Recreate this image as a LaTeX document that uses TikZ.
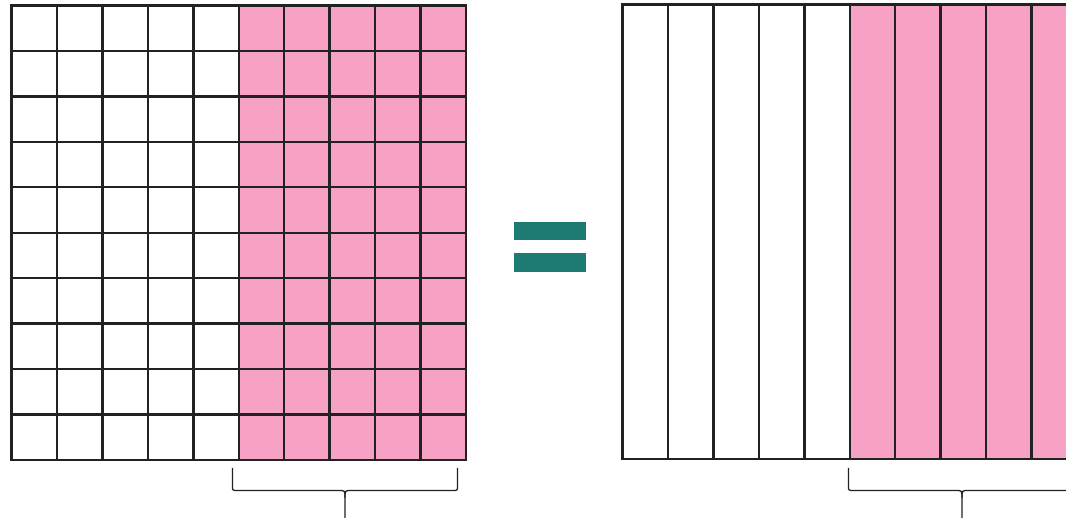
\documentclass[tikz,border=0pt]{standalone}
\definecolor{pinkfill}{HTML}{F7A1C4}
\definecolor{teal}{HTML}{1E7B74}
\definecolor{gridline}{HTML}{222222}
\tikzset{
  gridpen/.style={draw=gridline, line width=2.4pt, line cap=rect},
  bracepen/.style={draw=gridline, line width=1.3pt},
  eqbar/.style={fill=teal, draw=none}
}
\begin{document}
\begin{tikzpicture}[x=1pt,y=-1pt]
\useasboundingbox (0,0) rectangle (1066,518);
\clip (0,0) rectangle (1066,518);
% left grid
\def\lx{11.5}\def\ly{5.5}\def\c{45.45}
\fill[pinkfill] (\lx+5*\c,\ly) rectangle (\lx+10*\c,\ly+10*\c);
\foreach \i in {0,...,10}{
  \draw[gridpen] (\lx+\i*\c,\ly) -- (\lx+\i*\c,\ly+10*\c);
  \draw[gridpen] (\lx,\ly+\i*\c) -- (\lx+10*\c,\ly+\i*\c);
}
% equal sign
\fill[eqbar] (514,222) rectangle (586,240.5);
\fill[eqbar] (514,253.3) rectangle (586,271.7);
% right strips
\def\rx{622.5}\def\ry{4.5}\def\rh{454.5}
\fill[pinkfill] (\rx+5*\c,\ry) rectangle (\rx+10*\c,\ry+\rh);
\foreach \i in {0,...,10}{
  \draw[gridpen] (\rx+\i*\c,\ry) -- (\rx+\i*\c,\ry+\rh);
}
\draw[gridpen] (\rx,\ry) -- (\rx+10*\c,\ry);
\draw[gridpen] (\rx,\ry+\rh) -- (\rx+10*\c,\ry+\rh);
% braces
\coordinate (lbl) at (232.5,468);
\draw[bracepen] (232.5,468) -- (232.5,486) .. controls (232.5,490.5) .. (237.5,490.5)
  -- (339,490.5) .. controls (345,490.5) .. (345,498) -- (345,518);
\draw[bracepen] (457.5,468) -- (457.5,486) .. controls (457.5,490.5) .. (452.5,490.5)
  -- (351,490.5) .. controls (345,490.5) .. (345,498);
\draw[bracepen] (848.5,468) -- (848.5,486) .. controls (848.5,490.5) .. (853.5,490.5)
  -- (956,490.5) .. controls (962,490.5) .. (962,498) -- (962,518);
\draw[bracepen] (1075.5,468) -- (1075.5,486) .. controls (1075.5,490.5) .. (1070.5,490.5)
  -- (968,490.5) .. controls (962,490.5) .. (962,498);
\end{tikzpicture}
\end{document}
